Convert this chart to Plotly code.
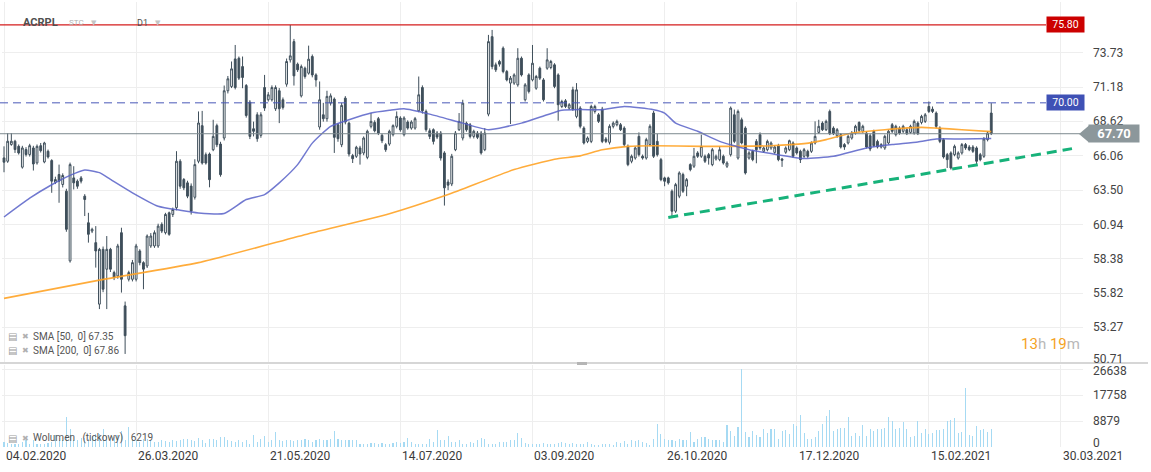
import plotly.graph_objects as go

# ---------------- DATA ----------------
opens = [
    65.90, 65.65, 66.90, 67.14, 66.76, 65.21, 66.52, 66.15, 66.64, 65.53,
    66.81, 65.60, 66.39, 65.70, 64.09, 64.66, 63.92, 63.42, 58.23, 64.41,
    64.17, 64.41, 63.05, 61.07, 60.45, 59.59, 55.01, 59.09, 57.61, 59.09,
    57.36, 57.11, 60.33, 54.88, 56.86, 56.86, 56.86, 58.97, 58.10, 57.85,
    59.34, 59.34, 59.34, 60.95, 60.33, 61.81, 61.69, 62.19, 65.65, 64.29,
    64.04, 63.80, 62.97, 65.65, 68.30, 66.14, 66.19, 66.51, 68.30, 66.93,
    67.38, 70.90, 71.22, 73.27, 73.32, 72.70, 71.29, 70.05, 68.07, 69.11,
    67.58, 71.14, 70.23, 70.23, 69.56, 70.90, 70.23, 71.39, 73.20, 74.56,
    72.88, 70.52, 72.58, 72.21, 73.45, 72.08, 68.20, 69.11, 68.82, 69.98,
    70.28, 68.37, 66.88, 70.35, 68.49, 66.07, 66.02, 66.64, 66.27, 65.94,
    68.25, 68.54, 68.82, 67.58, 66.88, 66.93, 67.63, 68.25, 68.87, 67.63,
    68.57, 68.12, 68.12, 69.41, 71.14, 69.36, 67.92, 68.00, 67.75, 67.75,
    66.27, 64.10, 63.96, 66.51, 68.00, 67.38, 68.49, 68.37, 67.50, 67.75,
    67.75, 66.51, 69.16, 74.93, 72.83, 73.08, 74.07, 72.33, 71.47, 71.47,
    71.34, 73.32, 70.23, 72.08, 71.71, 71.09, 72.58, 71.71, 72.58, 72.63,
    72.83, 72.08, 69.73, 70.15, 69.61, 70.97, 68.99, 69.61, 68.12, 67.13,
    67.13, 69.36, 69.11, 69.53, 67.31, 67.06, 68.25, 68.37, 68.37, 68.12,
    66.76, 65.65, 65.89, 67.50, 66.02, 65.89, 66.89, 69.24, 67.13, 65.77,
    64.41, 64.41, 63.42, 61.93, 63.05, 64.66, 63.79, 65.40, 65.28, 66.27,
    66.02, 66.02, 66.14, 65.40, 65.82, 65.77, 66.02, 65.28, 66.14, 69.11,
    65.89, 68.74, 68.12, 65.89, 66.39, 67.13, 67.63, 66.39, 66.51, 66.64,
    66.31, 66.81, 65.82, 66.32, 66.51, 67.01, 66.64, 66.39, 66.02, 66.39,
    66.39, 67.01, 67.80, 68.49, 68.00, 69.36, 68.12, 67.55, 67.63, 66.89,
    67.01, 67.38, 67.75, 68.54, 67.88, 67.75, 67.55, 67.88, 67.13, 66.71,
    66.64, 67.01, 68.37, 67.63, 68.12, 67.88, 68.00, 67.80, 67.75, 68.49,
    68.54, 68.62, 69.73, 69.53, 69.24, 68.12, 67.26, 66.14, 66.27, 66.14,
    65.89, 66.27, 66.89, 66.71, 66.71, 66.64, 66.14, 66.02, 67.26, 69.24,
]
highs = [
    66.76, 67.75, 67.75, 67.25, 66.90, 66.80, 66.70, 66.95, 66.80, 66.90,
    67.01, 67.10, 66.52, 65.80, 64.50, 65.40, 64.75, 63.60, 65.55, 65.28,
    64.30, 64.55, 63.20, 61.81, 60.70, 60.82, 59.20, 59.30, 60.08, 59.20,
    57.50, 59.50, 60.70, 55.20, 57.50, 58.30, 59.50, 59.10, 58.20, 60.20,
    60.30, 60.50, 61.00, 61.10, 61.81, 61.90, 62.20, 66.40, 65.80, 64.40,
    64.20, 64.00, 65.80, 69.36, 69.40, 66.30, 66.30, 68.74, 68.45, 67.10,
    71.29, 72.00, 73.08, 74.31, 73.45, 73.45, 71.40, 70.20, 68.60, 69.30,
    69.30, 72.08, 70.80, 71.30, 71.30, 71.10, 70.40, 73.30, 75.80, 74.76,
    73.00, 72.85, 72.70, 74.26, 73.60, 72.20, 71.59, 70.00, 70.90, 70.70,
    70.40, 68.50, 70.00, 70.50, 68.60, 66.20, 66.80, 66.80, 67.50, 68.00,
    69.24, 68.70, 68.95, 67.70, 67.00, 68.00, 68.40, 69.36, 69.00, 69.00,
    68.70, 68.70, 68.95, 71.96, 71.30, 69.50, 68.10, 68.10, 67.90, 67.90,
    66.40, 64.30, 66.20, 67.90, 69.24, 70.23, 68.60, 68.50, 68.00, 67.90,
    67.90, 68.12, 75.06, 75.43, 73.00, 73.20, 74.20, 72.45, 72.00, 72.20,
    74.07, 73.45, 71.47, 72.20, 74.31, 72.08, 72.70, 71.84, 74.07, 73.20,
    72.95, 72.20, 70.23, 70.28, 69.98, 71.20, 71.47, 69.75, 68.25, 67.50,
    69.86, 69.86, 69.24, 69.70, 67.45, 68.40, 68.62, 68.75, 68.50, 68.25,
    66.90, 66.15, 66.76, 67.80, 66.15, 67.40, 68.40, 69.40, 67.70, 65.90,
    64.50, 64.50, 63.55, 64.04, 64.90, 64.80, 64.40, 65.50, 66.64, 66.40,
    67.63, 66.15, 66.27, 66.64, 66.15, 66.76, 66.15, 65.65, 69.73, 69.50,
    69.50, 68.90, 68.25, 66.40, 66.51, 67.30, 67.80, 66.76, 67.26, 67.13,
    66.85, 66.95, 65.90, 66.76, 67.26, 67.13, 66.76, 66.51, 66.64, 66.51,
    67.13, 68.62, 68.74, 68.62, 68.75, 69.50, 68.25, 68.12, 67.75, 67.00,
    67.63, 67.90, 68.37, 68.62, 68.37, 67.88, 67.70, 68.00, 67.26, 67.00,
    67.63, 68.00, 68.50, 68.37, 68.25, 68.37, 68.12, 68.37, 68.75, 68.62,
    69.11, 69.24, 70.10, 69.73, 69.36, 68.25, 67.38, 66.27, 66.39, 66.89,
    66.39, 67.01, 67.01, 66.85, 66.85, 66.76, 66.27, 67.45, 67.90, 69.98,
]
lows = [
    64.83, 65.53, 66.80, 66.27, 66.15, 65.10, 66.00, 66.00, 64.96, 65.40,
    66.30, 65.50, 65.85, 63.30, 63.95, 62.56, 63.70, 60.40, 58.10, 63.55,
    63.60, 64.00, 61.57, 59.59, 60.30, 57.73, 54.64, 55.90, 54.64, 57.40,
    56.80, 56.90, 55.87, 51.30, 56.70, 56.70, 56.70, 57.90, 56.12, 57.70,
    59.20, 59.20, 59.20, 60.30, 60.20, 60.10, 61.50, 62.00, 63.60, 63.50,
    62.90, 61.68, 62.80, 65.50, 65.40, 65.40, 63.71, 66.40, 66.70, 64.50,
    67.20, 70.70, 71.10, 71.00, 71.70, 71.09, 68.90, 67.30, 67.50, 67.10,
    67.40, 69.40, 70.10, 70.10, 69.40, 68.49, 69.50, 71.20, 73.00, 71.29,
    72.30, 70.40, 71.80, 72.10, 71.90, 71.20, 68.00, 68.60, 68.60, 69.80,
    66.27, 67.10, 66.70, 68.40, 66.00, 65.52, 65.90, 65.40, 66.10, 65.80,
    68.10, 67.80, 67.60, 67.00, 66.35, 66.80, 67.50, 68.10, 67.85, 67.50,
    68.00, 68.00, 68.00, 69.30, 69.20, 67.85, 67.30, 66.90, 67.30, 65.70,
    62.35, 63.50, 63.80, 66.40, 67.90, 67.20, 67.85, 67.35, 67.35, 67.30,
    66.14, 66.40, 69.00, 72.50, 72.30, 72.70, 72.20, 71.60, 68.42, 71.34,
    71.20, 71.96, 70.10, 70.70, 71.60, 70.97, 71.70, 70.10, 72.46, 72.50,
    71.09, 68.67, 69.61, 69.61, 69.49, 69.40, 68.85, 68.10, 66.90, 67.00,
    67.00, 69.20, 68.50, 67.00, 67.00, 66.90, 68.10, 68.25, 67.90, 66.76,
    65.28, 65.50, 65.77, 66.00, 65.77, 65.77, 66.76, 65.89, 66.00, 64.16,
    63.79, 63.91, 61.56, 61.80, 62.90, 63.29, 63.05, 64.90, 65.15, 65.90,
    65.90, 65.52, 65.40, 65.28, 65.70, 65.65, 65.40, 65.15, 66.00, 67.00,
    65.77, 66.90, 64.66, 65.77, 65.65, 65.50, 66.50, 66.27, 66.39, 66.50,
    66.20, 65.65, 65.23, 66.20, 66.40, 65.90, 66.14, 65.52, 65.90, 65.90,
    66.27, 66.90, 67.70, 67.90, 67.90, 67.60, 67.60, 67.40, 66.60, 66.50,
    66.90, 67.26, 67.63, 67.80, 67.75, 66.60, 66.40, 66.70, 66.60, 66.60,
    66.50, 66.90, 67.75, 67.50, 67.63, 67.75, 67.60, 67.70, 67.63, 67.60,
    68.40, 68.50, 69.24, 69.24, 68.12, 67.00, 65.85, 65.15, 65.03, 66.02,
    65.77, 66.14, 66.50, 66.40, 66.27, 65.40, 65.65, 65.90, 67.13, 67.60,
]
closes = [
    65.58, 67.14, 67.14, 66.52, 66.27, 66.64, 66.15, 66.81, 65.45, 66.76,
    66.44, 67.01, 65.97, 64.17, 64.29, 64.17, 64.59, 60.58, 65.40, 64.04,
    63.79, 64.17, 62.80, 60.21, 60.58, 58.97, 59.09, 56.12, 59.09, 57.61,
    56.99, 59.34, 56.86, 52.66, 57.36, 58.10, 59.34, 58.10, 57.61, 60.08,
    60.08, 60.33, 60.82, 60.45, 61.69, 60.21, 62.06, 65.65, 63.79, 63.67,
    63.05, 61.93, 65.40, 68.50, 65.52, 65.52, 64.28, 67.50, 66.88, 64.65,
    70.90, 71.79, 72.53, 71.14, 71.84, 71.89, 69.06, 67.50, 67.88, 67.33,
    69.11, 69.61, 70.60, 71.14, 71.14, 69.56, 69.66, 73.08, 73.50, 72.01,
    72.46, 72.70, 71.96, 73.25, 72.08, 71.71, 70.23, 68.82, 70.48, 70.52,
    67.43, 67.33, 69.81, 68.57, 66.19, 65.84, 66.69, 66.19, 67.38, 67.88,
    68.62, 67.92, 67.75, 67.18, 66.51, 67.88, 68.30, 68.99, 67.99, 68.87,
    68.12, 68.57, 68.82, 70.60, 69.41, 68.00, 67.50, 67.13, 67.45, 65.89,
    63.67, 63.87, 66.02, 67.75, 68.62, 69.98, 67.99, 67.50, 67.88, 67.43,
    66.27, 67.75, 74.56, 72.70, 72.46, 72.88, 72.33, 71.71, 71.84, 72.08,
    73.32, 72.08, 71.34, 70.85, 72.95, 71.96, 71.84, 70.23, 73.20, 73.08,
    71.22, 69.86, 70.10, 69.73, 69.86, 69.53, 70.97, 68.25, 67.01, 67.38,
    69.73, 69.73, 68.62, 67.13, 67.13, 68.25, 68.49, 68.62, 68.00, 66.89,
    65.40, 66.02, 66.64, 66.14, 65.89, 67.26, 68.25, 66.02, 66.14, 64.28,
    64.16, 64.04, 61.93, 63.91, 64.78, 63.42, 64.28, 65.03, 66.02, 66.02,
    66.76, 65.65, 65.89, 66.51, 66.02, 66.51, 65.52, 65.52, 69.61, 67.13,
    69.36, 67.01, 64.78, 66.27, 65.77, 66.51, 66.64, 66.64, 67.13, 67.01,
    66.71, 65.77, 65.72, 66.64, 67.18, 66.02, 66.27, 65.77, 66.51, 66.02,
    67.01, 67.50, 68.25, 68.00, 68.62, 67.70, 67.70, 68.00, 66.71, 66.71,
    67.50, 67.75, 68.25, 67.95, 68.25, 66.71, 66.56, 66.81, 66.71, 66.89,
    67.50, 67.88, 67.88, 68.25, 67.75, 68.25, 67.70, 68.25, 68.62, 67.70,
    68.99, 69.11, 69.36, 69.36, 68.25, 67.13, 65.97, 65.77, 65.15, 66.76,
    66.27, 66.89, 66.64, 66.51, 66.39, 65.65, 65.77, 67.31, 67.75, 67.70,
]
volumes = [
    1700, 1400, 960, 1180, 960, 1710, 2250, 1180, 2250, 860,
    1180, 1180, 1390, 1710, 4070, 2250, 2250, 10270, 5990, 2250,
    2250, 3100, 3100, 2780, 3850, 4390, 4600, 5990, 3850, 3320,
    3320, 4170, 5460, 2460, 6740, 2780, 2250, 1710, 2570, 2780,
    2250,
    1710, 1710, 2250, 2030, 1710, 2250, 1930, 2250, 2780, 2780,
    2250, 1930, 3100, 2250, 1390, 2780, 2780, 2250, 3320, 3320,
    2250, 1930, 1710, 2250, 1710, 2250, 1180, 4170, 1710, 2570,
    3850, 1710, 2250, 5140, 2250, 1930, 2460, 2460, 1930, 2250,
    2460,
    2780, 2460, 1710, 2460, 2780, 2250, 2460, 2570, 5460, 2780,
    2250, 2250, 2250, 2250, 2250, 1180, 1180, 1180, 1390, 1390,
    1180, 1390, 1180, 1180, 1390, 1710, 1390, 1710, 3100, 1710,
    1180, 1180, 1180, 1180, 2780, 1710, 5780, 2250, 2250, 3850,
    1710,
    1710, 2460, 1180, 1180, 1710, 1390, 2250, 3100, 2680, 1180,
    1180, 1180, 1710, 1710, 1710, 2250, 2250, 4920, 3100, 1390,
    1180, 1180, 960, 1180, 1500, 1180, 1180, 1180, 1390, 1710,
    1500, 1180,
    1390,
    1180, 960, 960, 1610, 1180, 640, 640, 960, 960, 960,
    640, 1610, 1390, 1930, 960, 2250, 2030, 2250, 1710, 1500,
    640, 2780, 7810, 4390, 2570, 2250, 2250, 2030, 2570, 2250,
    2250, 5140, 1610, 2780, 3530, 3530, 2570, 2250, 2250, 2250,
    1710, 7380, 5460, 3850, 6740, 26638, 5140, 3530, 5460, 4170,
    3530, 5990, 4920, 5990, 5990, 2570, 5460, 5780, 4600, 7920,
    7060, 11020, 4920, 2570, 2570, 3320, 5460, 7920, 10590, 12730,
    5460, 5990, 6530, 6530, 10270, 3850, 4920, 3850, 7380, 3850,
    5990, 5460, 5990, 5990, 6530, 10270, 8880, 5990, 6530, 8670,
    5990, 3530, 3850, 8880, 4920, 6310, 4600, 4920, 5670, 5670,
    5990, 8880, 9200, 9950, 4920, 5240, 20000, 4170, 3850, 7060,
    5670, 6310, 5240, 6219,
]
bar_index = list(range(len(closes)))

sma50_idx = [0, 7, 13, 18, 22, 26, 29, 35, 42, 48, 53, 60, 66, 71, 75, 80, 84, 89, 94,
             100, 105, 109, 116, 125, 132, 141, 148, 152, 157, 163, 169, 177, 180, 183,
             189, 195, 203, 209, 218, 226, 235, 242, 249, 254, 261, 269]
sma50_val = [61.50, 62.90, 63.90, 64.60, 65.00, 64.80, 64.30, 63.30, 62.30, 62.00, 61.80,
             61.76, 62.80, 63.17, 64.04, 65.40, 67.00, 68.25, 68.74, 69.24, 69.44, 69.56,
             69.16, 68.49, 68.00, 68.49, 69.11, 69.44, 69.50, 69.49, 69.73, 69.49, 69.24,
             68.49, 67.88, 67.13, 66.51, 66.22, 65.85, 66.02, 66.64, 66.89, 67.08, 67.31,
             67.31, 67.35]
sma200_idx = [0, 26, 53, 83, 105, 121, 139, 150, 157, 163, 170, 177, 190, 209, 218, 224,
              231, 240, 250, 254, 261, 269]
sma200_val = [55.44, 56.80, 58.10, 60.25, 61.74, 63.17, 65.03, 65.80, 66.05, 66.50, 66.76,
              66.81, 66.76, 66.81, 66.96, 67.26, 67.75, 68.00, 68.17, 68.12, 68.00, 67.86]
trend_idx = [181, 291]
trend_val = [61.46, 66.59]

date_tick_idx = [0, 36, 72, 108, 144, 180, 216, 252, 288]
date_tick_labels = ["04.02.2020", "26.03.2020", "21.05.2020", "14.07.2020", "03.09.2020",
                    "26.10.2020", "17.12.2020", "15.02.2021", "30.03.2021"]
price_ticks = [50.71, 53.27, 55.82, 58.38, 60.94, 63.50, 66.06, 68.62, 71.18, 73.73]
volume_ticks = [0, 8879, 17758, 26638]

resistance_level = 75.80
alert_level = 70.00
last_price = 67.70
sma50_last = 67.35
sma200_last = 67.86
last_volume = volumes[-1]

# ---------------- LAYOUT HELPERS ----------------
W, H = 1151, 472
PL, PR, PT, PB = 2, 1083, 2, 447


def px(x):
    return (x - PL) / (PR - PL)


def py(y):
    return (PB - y) / (PB - PT)


CANDLE = "#3f4f5b"
GRID = "#eeeeee"
FONT = "Roboto"
AXIS_TXT = "#444444"

fig = go.Figure()

fig.add_trace(go.Candlestick(
    x=bar_index, open=opens, high=highs, low=lows, close=closes,
    increasing=dict(line=dict(color=CANDLE, width=1), fillcolor="#ffffff"),
    decreasing=dict(line=dict(color=CANDLE, width=1), fillcolor=CANDLE),
    whiskerwidth=0, xaxis="x", yaxis="y", showlegend=False, hoverinfo="skip"))

fig.add_trace(go.Scatter(x=sma200_idx, y=sma200_val, mode="lines",
                         line=dict(color="rgba(255,163,38,0.9)", width=1.6, shape="spline", smoothing=0.5),
                         xaxis="x", yaxis="y", showlegend=False, hoverinfo="skip"))
fig.add_trace(go.Scatter(x=sma50_idx, y=sma50_val, mode="lines",
                         line=dict(color="rgba(88,98,200,0.85)", width=1.5, shape="spline", smoothing=0.5),
                         xaxis="x", yaxis="y", showlegend=False, hoverinfo="skip"))
fig.add_trace(go.Scatter(x=trend_idx, y=trend_val, mode="lines",
                         line=dict(color="#17b27a", width=3, dash="10px,6px"),
                         xaxis="x", yaxis="y", showlegend=False, hoverinfo="skip"))

fig.add_trace(go.Bar(x=bar_index, y=volumes, width=0.3,
                     marker=dict(color="#a6daf3", line=dict(width=0)),
                     xaxis="x2", yaxis="y2", showlegend=False, hoverinfo="skip"))

shapes = [
    dict(type="line", xref="paper", yref="y", x0=px(0), x1=px(1046), y0=resistance_level,
         y1=resistance_level, line=dict(color="#d41c1c", width=1.3)),
    dict(type="line", xref="paper", yref="y", x0=px(0), x1=px(1046), y0=alert_level,
         y1=alert_level, line=dict(color="#4a58b8", width=1, dash="8px,5px")),
    dict(type="line", xref="paper", yref="y", x0=px(0), x1=px(1080), y0=last_price,
         y1=last_price, line=dict(color="#7d8a8f", width=1)),
    # panel separator and handle
    dict(type="line", xref="paper", yref="paper", x0=px(0), x1=px(1148), y0=py(363),
         y1=py(363), line=dict(color="#d6d6d6", width=2)),
    dict(type="rect", xref="paper", yref="paper", x0=px(577), x1=px(587), y0=py(365),
         y1=py(362), fillcolor="#b5b5b5", line=dict(width=0)),
    # last price tag arrow
    dict(type="path", xref="paper", yref="paper",
         path=f"M {px(1079)} {py(134)} L {px(1089)} {py(125.5)} L {px(1089)} {py(142.5)} Z",
         fillcolor="#8c979b", line=dict(width=0)),
]

annotations = []
# date labels (left-aligned at the grid lines)
for idx, lab in zip(date_tick_idx, date_tick_labels):
    annotations.append(dict(x=idx, xref="x", y=py(456), yref="paper", text=lab,
                            xanchor="left", yanchor="middle", showarrow=False,
                            font=dict(family=FONT, size=12, color="#3a3a3a")))

# right axis labels (edge labels pulled inside the panel, as in the reference)
for v in price_ticks:
    shift = 3 if v == price_ticks[0] else 0
    annotations.append(dict(x=px(1091), xref="paper", y=v, yref="y", yshift=shift,
                            text=f"{v:.2f}", xanchor="left", yanchor="middle", showarrow=False,
                            font=dict(family=FONT, size=12, color=AXIS_TXT)))
for v in volume_ticks:
    shift = 4 if v == 0 else (-2 if v == volume_ticks[-1] else 0)
    annotations.append(dict(x=px(1091), xref="paper", y=v, yref="y2", yshift=shift,
                            text=str(v), xanchor="left", yanchor="middle", showarrow=False,
                            font=dict(family=FONT, size=12, color=AXIS_TXT)))

# price boxes
annotations.append(dict(x=px(1046), xref="paper", y=resistance_level, yref="y",
                        text=f"{resistance_level:.2f}", xanchor="left", yanchor="middle",
                        showarrow=False, bgcolor="#cc0000", width=33, height=11, borderpad=2,
                        font=dict(family=FONT, size=10.5, color="#ffffff")))
annotations.append(dict(x=px(1046), xref="paper", y=alert_level, yref="y",
                        text=f"{alert_level:.2f}", xanchor="left", yanchor="middle",
                        showarrow=False, bgcolor="#3f51b5", width=33, height=11, borderpad=2,
                        font=dict(family=FONT, size=10.5, color="#ffffff")))
annotations.append(dict(x=px(1088), xref="paper", y=last_price, yref="y",
                        text=f"<b>{last_price:.2f}</b>", xanchor="left", yanchor="middle",
                        showarrow=False, bgcolor="#8c979b", width=46, height=13, borderpad=2,
                        font=dict(family=FONT, size=13, color="#ffffff")))

# header
hdr_y = py(23)
annotations += [
    dict(x=px(21), xref="paper", y=hdr_y, yref="paper", text="<b>ACRPL</b>", xanchor="left",
         yanchor="middle", showarrow=False, font=dict(family=FONT, size=11, color="#505050")),
    dict(x=px(67), xref="paper", y=hdr_y, yref="paper", text="STC", xanchor="left",
         yanchor="middle", showarrow=False, font=dict(family=FONT, size=8, color="#b0b0b0")),
    dict(x=px(89), xref="paper", y=hdr_y, yref="paper", text="▼", xanchor="left",
         yanchor="middle", showarrow=False, font=dict(family="DejaVu Sans", size=7, color="#c4c4c4")),
    dict(x=px(135), xref="paper", y=hdr_y, yref="paper", text="D1", xanchor="left",
         yanchor="middle", showarrow=False, font=dict(family=FONT, size=9, color="#505050")),
    dict(x=px(153), xref="paper", y=hdr_y, yref="paper", text="▼", xanchor="left",
         yanchor="middle", showarrow=False, font=dict(family="DejaVu Sans", size=7, color="#c4c4c4")),
]

# indicator legends
legend_rows = [
    (336, f"SMA [50,  0] {sma50_last:.2f}"),
    (350, f"SMA [200,  0] {sma200_last:.2f}"),
    (438, f"Wolumen   (tickowy)   {last_volume}"),
]
for yy, txt in legend_rows:
    annotations += [
        dict(x=px(6), xref="paper", y=py(yy), yref="paper", text="▤", xanchor="left",
             yanchor="middle", showarrow=False, font=dict(family="DejaVu Sans", size=10, color="#a0a0a0")),
        dict(x=px(20), xref="paper", y=py(yy), yref="paper", text="✖", xanchor="left",
             yanchor="middle", showarrow=False, font=dict(family="DejaVu Sans", size=8, color="#b0b0b0")),
        dict(x=px(31), xref="paper", y=py(yy), yref="paper", text=txt, xanchor="left",
             yanchor="middle", showarrow=False, font=dict(family=FONT, size=10, color="#555555")),
    ]

# countdown
annotations.append(dict(
    x=px(1082), xref="paper", y=py(344), yref="paper", xanchor="right", yanchor="middle",
    showarrow=False,
    text=("<span style='color:#f5a31f'>13</span><span style='color:#b8b8b8'>h</span> "
          "<span style='color:#f5a31f'>19</span><span style='color:#b8b8b8'>m</span>"),
    font=dict(family=FONT, size=15)))

axis_common = dict(showgrid=True, gridcolor=GRID, gridwidth=1, zeroline=False, showline=False)

fig.update_layout(
    width=W, height=H,
    margin=dict(l=PL, r=W - PR, t=PT, b=H - PB, pad=0),
    paper_bgcolor="#ffffff", plot_bgcolor="#ffffff",
    font=dict(family=FONT, size=12, color=AXIS_TXT),
    showlegend=False,
    xaxis=dict(domain=[0, 1], anchor="y", range=[-0.545, 294.0], tickvals=date_tick_idx,
               showticklabels=False, ticks="", rangeslider=dict(visible=False), **axis_common),
    xaxis2=dict(domain=[0, 1], anchor="y2", matches="x", range=[-0.545, 294.0],
                tickvals=date_tick_idx, showticklabels=False, ticks="", **axis_common),
    yaxis=dict(domain=[py(362), 1.0], anchor="x", side="right", range=[50.70, 77.51],
               tickvals=price_ticks, showticklabels=False, ticks="", **axis_common),
    yaxis2=dict(domain=[0, py(365)], anchor="x2", side="right", range=[0, 28004],
                tickvals=volume_ticks, showticklabels=False, ticks="", **axis_common),
    bargap=0,
    shapes=shapes,
    annotations=annotations,
)

fig.write_html("out.html",
               config={"displayModeBar": False, "staticPlot": True},
               post_script="document.body.style.margin='0px';document.body.style.overflow='hidden';")
